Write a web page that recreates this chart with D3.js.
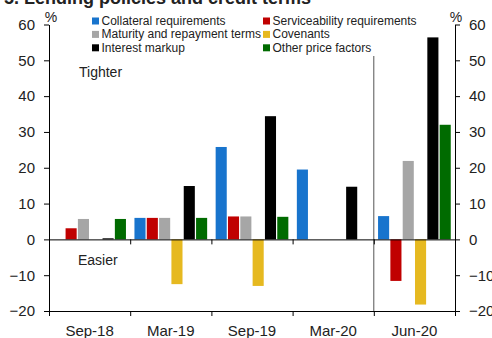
<!DOCTYPE html>
<html>
<head>
<meta charset="utf-8">
<script src="https://cdn.jsdelivr.net/npm/d3@7"></script>
<style>
  html, body { margin: 0; padding: 0; background: #fff; }
  svg { display: block; font-family: "Liberation Sans", Arial, sans-serif; }
</style>
</head>
<body>
<svg id="chart" width="492" height="338"></svg>
<script>
// Survey periods on the horizontal axis
const periods = ["Sep-18", "Mar-19", "Sep-19", "Mar-20", "Jun-20"];

// Net percentage of lenders tightening, by lending term
const collateral    = [0,    6,    25.8, 19.5,  6.5];
const serviceability = [3.1,  6,    6.4,  0,   -11.6];
const maturity      = [5.7,  6,    6.4,  0,    21.9];
const covenants     = [0,  -12.5, -13.0,  0,   -18.2];
const interestMarkup = [0.3, 14.9,  34.4, 14.7,  56.4];
const otherPrice    = [5.7,  6,    6.3,  0,    32.0];

const seriesNames = [
  "Collateral requirements", "Serviceability requirements",
  "Maturity and repayment terms", "Covenants",
  "Interest markup", "Other price factors"
];
const seriesValues = [collateral, serviceability, maturity, covenants, interestMarkup, otherPrice];
const seriesColors = ["#1874cd", "#c00000", "#a6a6a6", "#e6b920", "#000000", "#006b00"];

const yTicks = [-20, -10, 0, 10, 20, 30, 40, 50, 60];

const svg = d3.select("#chart");
const plotLeft = 49, plotRight = 455, plotTop = 24.5, plotBottom = 311;
const textColor = "#222";

const x = d3.scaleBand().domain(periods).range([plotLeft, plotRight]).padding(0);
const xEdge = d3.scaleLinear().domain([0, periods.length]).range([plotLeft, plotRight]);
const xInner = d3.scaleBand().domain(d3.range(seriesNames.length))
  .range([0, x.bandwidth()]).paddingInner(0.1).paddingOuter(0.345);
const y = d3.scaleLinear().domain([-20, 60]).range([plotBottom, plotTop]);

// Title (runs off the top edge)
svg.append("text")
  .attr("x", 311).attr("y", 3.5)
  .attr("text-anchor", "end")
  .attr("font-size", 18).attr("font-weight", "bold")
  .attr("fill", textColor)
  .text("5. Lending policies and credit terms");

// Bars
const bars = [];
seriesValues.forEach((vals, s) => {
  vals.forEach((v, i) => bars.push({ s, period: periods[i], v }));
});
svg.append("g").selectAll("rect")
  .data(bars.filter(d => d.v !== 0))
  .join("rect")
  .attr("x", d => x(d.period) + xInner(d.s))
  .attr("width", xInner.bandwidth())
  .attr("y", d => y(Math.max(0, d.v)))
  .attr("height", d => Math.abs(y(d.v) - y(0)))
  .attr("fill", d => seriesColors[d.s]);

// Divider before the latest survey
svg.append("line")
  .attr("x1", xEdge(4)).attr("x2", xEdge(4))
  .attr("y1", 56).attr("y2", plotBottom)
  .attr("stroke", "#555").attr("stroke-width", 1);

// Vertical axes
const styleAxis = g => {
  g.selectAll("path, line").attr("stroke", "#000");
  g.selectAll("text").attr("font-size", 15).attr("fill", textColor)
    .attr("font-family", "Liberation Sans, Arial, sans-serif");
};
svg.append("g").attr("transform", `translate(${plotLeft},0)`)
  .call(d3.axisLeft(y).tickValues(yTicks).tickSize(5).tickSizeOuter(0).tickPadding(9).tickFormat(d3.format("d")))
  .call(styleAxis);
svg.append("g").attr("transform", `translate(${plotRight},0)`)
  .call(d3.axisRight(y).tickValues(yTicks).tickSize(5).tickSizeOuter(0).tickPadding(9).tickFormat(d3.format("d")))
  .call(styleAxis);

// Horizontal axis at the bottom and at zero, with ticks on period boundaries
const edgeAxis = d3.axisBottom(xEdge).tickValues(d3.range(periods.length + 1))
  .tickSize(5).tickSizeOuter(0).tickFormat("");
svg.append("g").attr("transform", `translate(0,${plotBottom})`).call(edgeAxis).call(styleAxis);
svg.append("g").attr("transform", `translate(0,${y(0)})`).call(edgeAxis).call(styleAxis);

// Period labels
svg.append("g").selectAll("text")
  .data(periods).join("text")
  .attr("x", d => x(d) + x.bandwidth() / 2)
  .attr("y", 336)
  .attr("text-anchor", "middle")
  .attr("font-size", 15).attr("fill", textColor)
  .text(d => d);

// Unit markers
[plotLeft + 2, plotRight + 1].forEach(px => {
  svg.append("text").attr("x", px).attr("y", 22)
    .attr("text-anchor", "middle").attr("font-size", 14).attr("fill", textColor)
    .text("%");
});

// Direction annotations
svg.append("text").attr("x", 79).attr("y", 77)
  .attr("font-size", 14).attr("fill", textColor).text("Tighter");
svg.append("text").attr("x", 78).attr("y", 265)
  .attr("font-size", 14).attr("fill", textColor).text("Easier");

// Legend: two columns, three rows
const legend = svg.append("g").selectAll("g")
  .data(seriesNames.map((name, i) => ({ name, i })))
  .join("g")
  .attr("transform", d => `translate(${d.i % 2 === 0 ? 92 : 263},${25 + Math.floor(d.i / 2) * 13.4})`);
legend.append("rect")
  .attr("x", 0).attr("y", -7.5).attr("width", 7).attr("height", 7)
  .attr("fill", d => seriesColors[d.i]);
legend.append("text")
  .attr("x", 9.5).attr("y", 0)
  .attr("font-size", 12).attr("fill", textColor)
  .text(d => d.name);
</script>
</body>
</html>
